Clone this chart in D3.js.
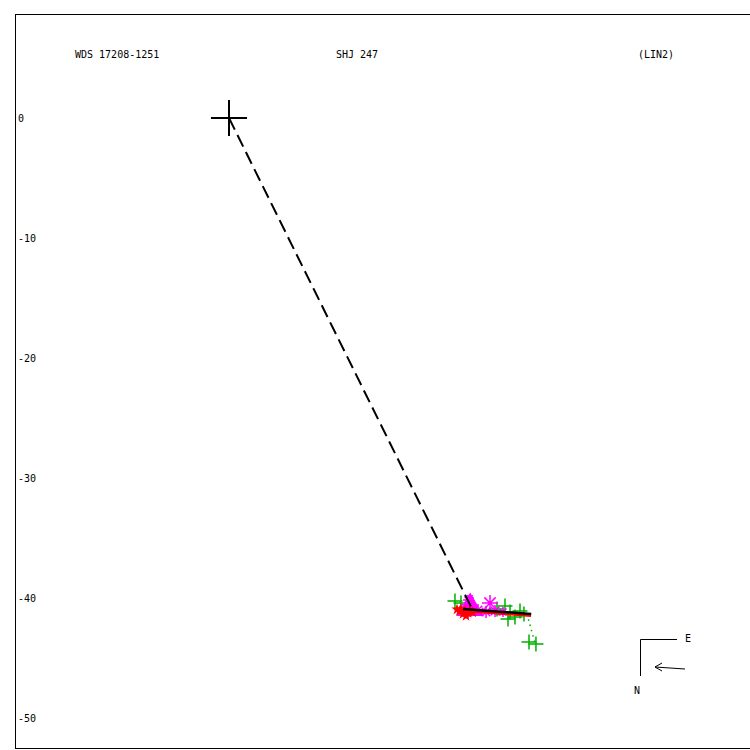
<!DOCTYPE html>
<html><head><meta charset="utf-8">
<script src="https://cdn.jsdelivr.net/npm/d3@7"></script>
<style>html,body{margin:0;padding:0;background:#fff;overflow:hidden}</style>
</head><body>
<svg id="c" width="750" height="750"></svg>
<script>
const titleLeft = "WDS 17208-1251";
const titleMid = "SHJ 247";
const titleRight = "(LIN2)";
const yTicks = [0, -10, -20, -30, -40, -50];
const primary = [0, 0];
const dashedEnd = [20.25, -40.9];
const blackLine = [[19.5, -40.92], [25.17, -41.33]];
const redLine = [[19.5, -41.08], [25.17, -41.5]];
const greenDotted = [[24.83, -41.33], [25.5, -43.75]];
const greenX = [18.83, 19.33, 22.33, 23.0, 23.42, 23.83, 24.25, 24.58, 23.25, 25.0, 25.58];
const greenY = [-40.25, -40.42, -40.92, -40.67, -41.17, -41.58, -41.08, -41.33, -41.75, -43.67, -43.83];
const magX = [21.75, 20.75, 21.42, 22.17, 22.83, 19.92, 20.08, 19.75, 20.25, 20.42, 19.92, 19.5, 20.08];
const magY = [-40.42, -41.0, -41.17, -41.08, -41.17, -40.17, -40.5, -40.83, -40.83, -41.08, -41.17, -41.17, -40.0];
const magSize = [8, 6, 6, 6, 5, 5, 6, 6, 6, 5, 6, 5, 4];
const redX = [19.33, 19.67, 19.5, 19.92, 20.08, 19.75, 19.2, 19.0, 20.3];
const redY = [-40.92, -41.08, -41.33, -41.25, -41.0, -41.5, -41.1, -40.95, -41.2];

const svg = d3.select("#c");
const x = d3.scaleLinear().domain([0, 10]).range([229, 349]);
const y = d3.scaleLinear().domain([0, -50]).range([118, 718]);

svg.append("rect").attr("x", 15.5).attr("y", 14.5).attr("width", 760).attr("height", 734)
  .attr("fill", "none").attr("stroke", "#000").attr("stroke-width", 1);

const font = "'DejaVu Sans Mono', monospace";
const txt = (s, px, py, anchor) => svg.append("text").attr("x", px).attr("y", py)
  .attr("font-family", font).attr("font-size", 10).attr("fill", "#000")
  .attr("text-anchor", anchor || "start").text(s);

txt(titleLeft, 75, 58);
txt(titleMid, 336, 58);
txt(titleRight, 638, 58);

yTicks.forEach(t => txt(String(t), 18, y(t) + 4));

// green crosses
const g = svg.append("g");
greenX.forEach((gx, i) => {
  const cx = x(gx), cy = y(greenY[i]), s = 7.5;
  g.append("path").attr("d", `M${cx - s},${cy}H${cx + s}M${cx},${cy - s}V${cy + s}`)
    .attr("stroke", "#00b000").attr("stroke-width", 1.5).attr("fill", "none");
});
const lineGen = d3.line().x(d => x(d[0])).y(d => y(d[1]));
svg.append("path").attr("d", lineGen(greenDotted)).attr("stroke", "#00b000")
  .attr("stroke-width", 1.5).attr("stroke-dasharray", "1.5,4").attr("fill", "none");

// magenta asterisks
magX.forEach((mx, i) => {
  const cx = x(mx), cy = y(magY[i]), s = magSize[i];
  let d = "";
  for (let k = 0; k < 4; k++) {
    const a = k * Math.PI / 4;
    d += `M${cx - s * Math.cos(a)},${cy - s * Math.sin(a)}L${cx + s * Math.cos(a)},${cy + s * Math.sin(a)}`;
  }
  svg.append("path").attr("d", d).attr("stroke", "#ff00ff").attr("stroke-width", 1.5).attr("fill", "none");
});
// dense magenta blob
svg.append("path").attr("d", d3.symbol(d3.symbolTriangle, 320)()).attr("fill", "#ff00ff")
  .attr("transform", `translate(${x(20.1)},${y(-40.85)})`);

// red points
redX.forEach((rx, i) => {
  svg.append("path").attr("d", d3.symbol(d3.symbolStar, 40)()).attr("fill", "#ff0000")
    .attr("transform", `translate(${x(rx)},${y(redY[i])})`);
});
svg.append("path").attr("d", lineGen(redLine)).attr("stroke", "#ff0000").attr("stroke-width", 2).attr("fill", "none");
svg.append("path").attr("d", lineGen(blackLine)).attr("stroke", "#000").attr("stroke-width", 2.5).attr("fill", "none");

// dashed line
svg.append("path").attr("d", lineGen([primary, dashedEnd])).attr("stroke", "#000")
  .attr("stroke-width", 2).attr("stroke-dasharray", "13,6").attr("fill", "none");

// primary cross
const px = x(primary[0]), py = y(primary[1]);
svg.append("path").attr("d", `M${px - 18},${py}H${px + 18}M${px},${py - 18}V${py + 18}`)
  .attr("stroke", "#000").attr("stroke-width", 2);

// compass
svg.append("path").attr("d", "M677,639.5H640.5V676").attr("stroke", "#000").attr("stroke-width", 1).attr("fill", "none");
txt("E", 685, 642);
txt("N", 634, 694);
svg.append("path").attr("d", "M685,669L655,667M662,663L655,667L662,671").attr("stroke", "#000").attr("stroke-width", 1).attr("fill", "none");
</script>
</body></html>
